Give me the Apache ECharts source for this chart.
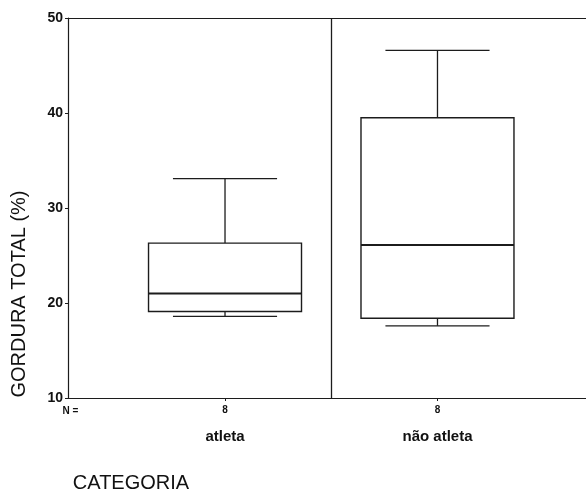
<!DOCTYPE html>
<html>
<head>
<meta charset="utf-8">
<script src="https://cdn.jsdelivr.net/npm/echarts@6/dist/echarts.min.js"></script>
<style>html,body{margin:0;padding:0;background:#fff;}#c{width:586px;height:493px;}</style>
</head>
<body>
<div id="c"></div>
<script>
const categories = ['atleta', 'não atleta'];
const counts = [8, 8];
const lowWhisker = [18.6, 17.6];
const q1 = [19.1, 18.4];
const median = [21.0, 26.1];
const q3 = [26.3, 39.5];
const highWhisker = [33.1, 46.6];
const yTicks = [10, 20, 30, 40, 50];

const boxData = categories.map((c, i) => [i, lowWhisker[i], q1[i], median[i], q3[i], highWhisker[i]]);
const INK = '#1c1c1c';
const FONT = '"Liberation Sans", Arial, sans-serif';

const chart = echarts.init(document.getElementById('c'), null, {renderer: 'canvas'});
chart.setOption({
  animation: false,
  backgroundColor: '#fff',
  grid: {left: 68, right: 0, top: 18, bottom: 95},
  xAxis: [{
    type: 'value', min: -0.739, max: 1.699,
    axisLine: {show: true, onZero: false, lineStyle: {color: INK, width: 1.2}},
    axisTick: {show: true, length: 3, customValues: [0, 1], lineStyle: {color: INK}},
    splitLine: {show: false},
    axisLabel: {
      show: true, customValues: [0, 1], margin: 4,
      formatter: v => {
        const i = Math.round(v);
        return '{n|' + counts[i] + '}\n{c|' + categories[i] + '}';
      },
      rich: {
        n: {fontFamily: FONT, fontWeight: 'bold', fontSize: 10, color: '#111', lineHeight: 16},
        c: {fontFamily: FONT, fontWeight: 'bold', fontSize: 15, color: '#111', lineHeight: 38}
      }
    }
  }, {
    type: 'value', position: 'top', min: -0.739, max: 1.699,
    axisLine: {show: true, onZero: false, lineStyle: {color: INK, width: 1.2}},
    axisTick: {show: false}, axisLabel: {show: false}, splitLine: {show: false}
  }],
  yAxis: {
    type: 'value', min: yTicks[0], max: yTicks[yTicks.length - 1], interval: 10,
    axisLine: {show: true, onZero: false, lineStyle: {color: INK, width: 1.2}},
    axisTick: {show: true, length: 3, lineStyle: {color: INK}},
    splitLine: {show: false},
    axisLabel: {fontFamily: FONT, fontWeight: 'bold', fontSize: 14, color: '#111', margin: 5}
  },
  graphic: [
    {type: 'text', x: 70.5, y: 411, style: {text: 'N =', font: 'bold 10px ' + FONT, fill: '#111', align: 'center', verticalAlign: 'middle'}},
    {type: 'text', x: 131, y: 483, style: {text: 'CATEGORIA', font: '20px ' + FONT, fill: '#111', align: 'center', verticalAlign: 'middle'}},
    {type: 'text', x: 19.5, y: 294, rotation: Math.PI / 2, style: {text: 'GORDURA TOTAL (%)', font: '20px ' + FONT, fill: '#111', align: 'center', verticalAlign: 'middle'}}
  ],
  series: [{
    type: 'custom',
    xAxisIndex: 0,
    data: boxData,
    encode: {x: 0, y: [1, 2, 3, 4, 5]},
    renderItem: (params, api) => {
      const x = api.value(0);
      const lo = api.coord([x, api.value(1)]);
      const b1 = api.coord([x, api.value(2)]);
      const md = api.coord([x, api.value(3)]);
      const b3 = api.coord([x, api.value(4)]);
      const hi = api.coord([x, api.value(5)]);
      const band = api.size([1, 0])[0];
      const bw = band * 0.72 / 2;
      const cw = band * 0.49 / 2;
      const cx = lo[0];
      const ls = {stroke: INK, lineWidth: 1.3, fill: null};
      return {
        type: 'group',
        children: [
          {type: 'line', shape: {x1: cx, y1: hi[1], x2: cx, y2: b3[1]}, style: ls},
          {type: 'line', shape: {x1: cx, y1: b1[1], x2: cx, y2: lo[1]}, style: ls},
          {type: 'line', shape: {x1: cx - cw, y1: hi[1], x2: cx + cw, y2: hi[1]}, style: ls},
          {type: 'line', shape: {x1: cx - cw, y1: lo[1], x2: cx + cw, y2: lo[1]}, style: ls},
          {type: 'rect', shape: {x: cx - bw, y: b3[1], width: 2 * bw, height: b1[1] - b3[1]}, style: {stroke: INK, lineWidth: 1.4, fill: '#fff'}},
          {type: 'line', shape: {x1: cx - bw, y1: md[1], x2: cx + bw, y2: md[1]}, style: {stroke: INK, lineWidth: 2}}
        ]
      };
    },
    markLine: {
      silent: true, symbol: 'none', label: {show: false},
      lineStyle: {color: INK, type: 'solid', width: 1.3},
      data: [{xAxis: 0.5}]
    },
    z: 3
  }]
});
</script>
</body>
</html>
